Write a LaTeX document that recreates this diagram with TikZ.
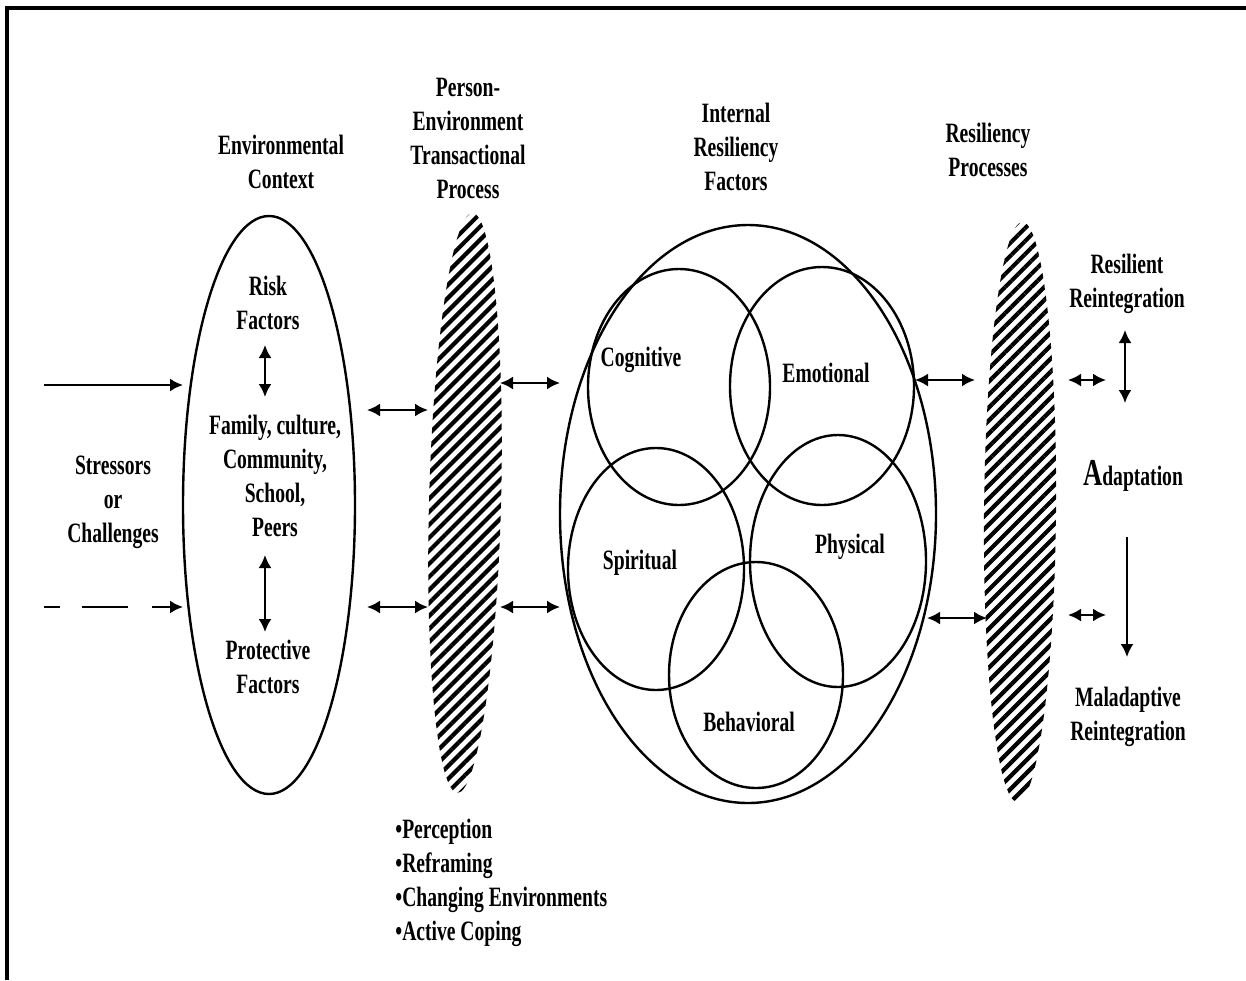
\documentclass[tikz,border=0pt]{standalone}
\usepackage{fontspec}
\setmainfont{Liberation Serif}[FakeStretch=0.7]
\usetikzlibrary{arrows.meta,patterns.meta}
\begin{document}
\begin{tikzpicture}[x=0.5pt,y=-0.5pt,
  lbl/.style={font=\fontsize{14}{17}\selectfont\bfseries, align=center, inner sep=0pt},
  ring/.style={draw, line width=1.2pt},
  hatch/.style={pattern={Lines[angle=45,distance=4.6pt,line width=2.1pt]}},
  dbl/.style={{Latex[length=6.5pt,width=6.5pt]}-{Latex[length=6.5pt,width=6.5pt]}, line width=1.1pt},
  sgl/.style={-{Latex[length=6.5pt,width=6.5pt]}, line width=1.1pt}]
\useasboundingbox (0,0) rectangle (1246,980);
% frame
\draw[line width=1.6pt] (7,980) -- (7,8) -- (1246,8);

% titles
\node[lbl] (envtitle) at (281,162) {Environmental\\Context};
\node[lbl] (pettitle) at (468,138) {Person-\\Environment\\Transactional\\Process};
\node[lbl] (irftitle) at (736,147) {Internal\\Resiliency\\Factors};
\node[lbl] (rptitle) at (988,150) {Resiliency\\Processes};

% left stressors
\node[lbl] (stress) at (113,502) {Stressors\\or\\Challenges};

% environmental ellipse
\draw[ring] (269,505) ellipse [x radius=86, y radius=289];
\node[lbl] (risk) at (268,303) {Risk\\Factors};
\node[lbl] (family) at (275,476) {Family, culture,\\Community,\\School,\\Peers};
\node[lbl] (protect) at (268,667) {Protective\\Factors};

% hatched lenses
\fill[hatch, rotate around={-1.5:(465,503)}] (465,503) ellipse [x radius=36, y radius=290];
\fill[hatch, rotate around={-0.5:(1020,512)}] (1020,512) ellipse [x radius=36, y radius=290];

% internal resiliency circles
\draw[ring] (748,514) ellipse [x radius=188, y radius=289];
\draw[ring] (679,387) ellipse [x radius=91, y radius=118];
\draw[ring] (822,386) ellipse [x radius=92, y radius=119];
\draw[ring] (656,569) ellipse [x radius=88, y radius=121];
\draw[ring] (838,561) ellipse [x radius=88, y radius=126];
\draw[ring] (756,675) ellipse [x radius=87, y radius=113];
\node[lbl] (cog) at (641,360) {Cognitive};
\node[lbl] (emo) at (826,373) {Emotional};
\node[lbl] (spi) at (640,563) {Spiritual};
\node[lbl] (phy) at (850,547) {Physical};
\node[lbl] (beh) at (749,722) {Behavioral};

% outcomes
\node[lbl] (resil) at (1127,284) {Resilient\\Reintegration};
\node[lbl] (adapt) at (1133,476) {{\fontsize{19}{17}\selectfont A}daptation};
\node[lbl] (malad) at (1128,717) {Maladaptive\\Reintegration};

% coping list
\node[lbl, align=left, anchor=west] (coping) at (395,883)
  {\textbullet Perception\\\textbullet Reframing\\\textbullet Changing Environments\\\textbullet Active Coping};

% connector end points
\coordinate (s1a) at (44,385);  \coordinate (s1b) at (183,385);
\coordinate (s2a) at (44,607);  \coordinate (s2b) at (183,607);
\coordinate (e1a) at (367,410); \coordinate (e1b) at (428,410);
\coordinate (e2a) at (367,607); \coordinate (e2b) at (428,607);
\coordinate (p1a) at (500,383); \coordinate (p1b) at (560,383);
\coordinate (p2a) at (500,607); \coordinate (p2b) at (560,607);
\coordinate (i1a) at (915,380); \coordinate (i1b) at (975,380);
\coordinate (i2a) at (927,618); \coordinate (i2b) at (987,618);
\coordinate (r1a) at (1068,380); \coordinate (r1b) at (1106,380);
\coordinate (r2a) at (1068,615); \coordinate (r2b) at (1106,615);
\coordinate (rv1) at (1125,330); \coordinate (rv2) at (1125,403);
\coordinate (md1) at (1127,537); \coordinate (md2) at (1127,657);
\coordinate (rk1) at (265,345); \coordinate (rk2) at (265,397);
\coordinate (pr1) at (265,555); \coordinate (pr2) at (265,632);

\draw[sgl] (s1a) -- (s1b);
\draw[sgl, dash pattern=on 8pt off 11pt on 23pt off 12pt on 16pt] (s2a) -- (s2b);
\draw[dbl] (e1a) -- (e1b);
\draw[dbl] (e2a) -- (e2b);
\draw[dbl] (p1a) -- (p1b);
\draw[dbl] (p2a) -- (p2b);
\draw[dbl] (i1a) -- (i1b);
\draw[dbl] (i2a) -- (i2b);
\draw[dbl] (r1a) -- (r1b);
\draw[dbl] (r2a) -- (r2b);
\draw[dbl] (rv1) -- (rv2);
\draw[sgl] (md1) -- (md2);
\draw[dbl] (rk1) -- (rk2);
\draw[dbl] (pr1) -- (pr2);
\end{tikzpicture}
\end{document}
